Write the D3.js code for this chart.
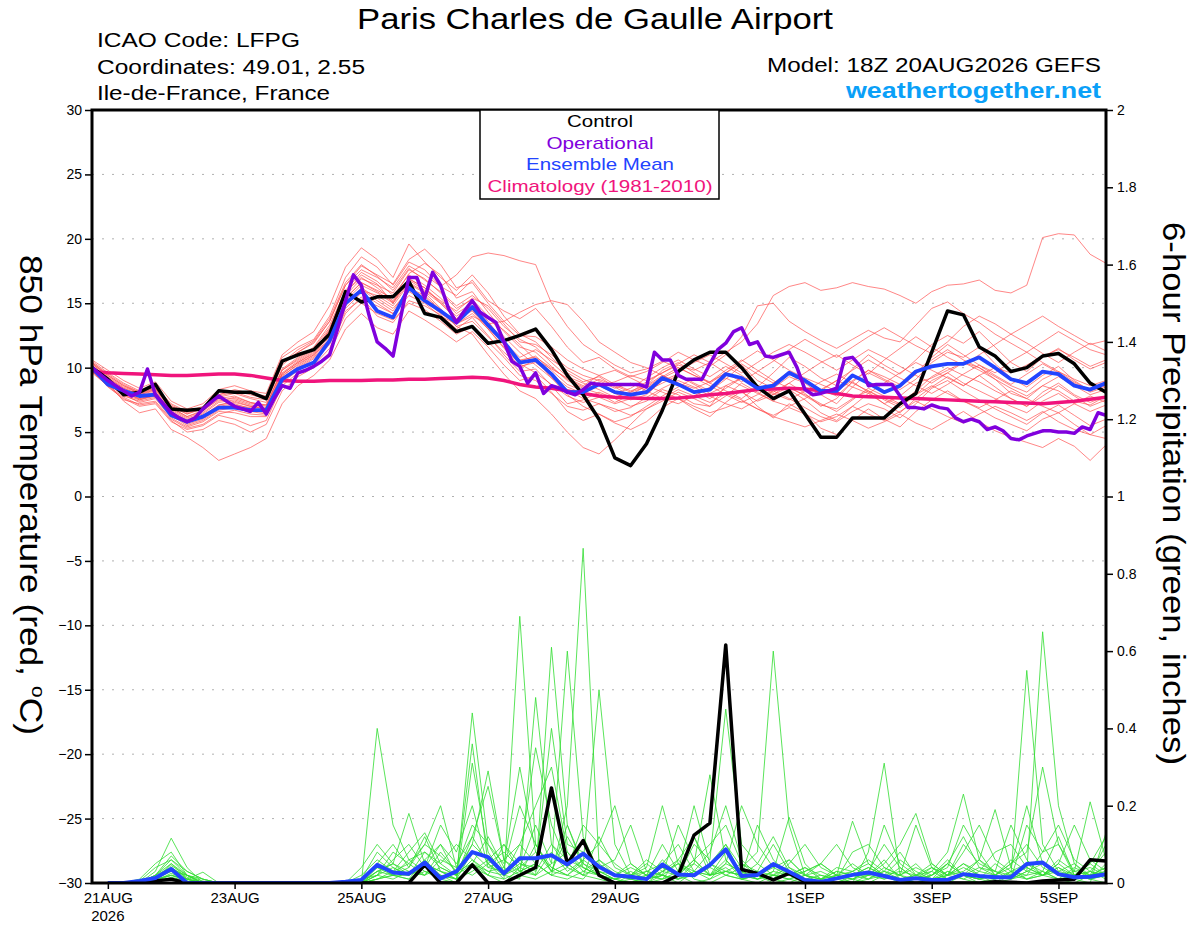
<!DOCTYPE html>
<html><head><meta charset="utf-8">
<script src="https://cdn.jsdelivr.net/npm/d3@7"></script>
<style>
body{margin:0;background:#fff;}
svg{display:block;font-family:"Liberation Sans",Arial,Helvetica,sans-serif;}
</style></head>
<body><svg id="c" width="1200" height="927"></svg>
<script>
// ---------------- DATA ----------------
const tickHours = [6,54,102,150,198,270,318,366];
const tickLabels = ["21AUG","23AUG","25AUG","27AUG","29AUG","1SEP","3SEP","5SEP"];
const tempTicks = [30,25,20,15,10,5,0,-5,-10,-15,-20,-25,-30];
const precipTicks = [0,0.2,0.4,0.6,0.8,1,1.2,1.4,1.6,1.8,2];

// 6-hourly temperature, hours 0..384
const controlTemp = [10.0,9.1,7.9,8.1,8.7,6.8,6.7,6.8,8.2,8.1,8.1,7.6,10.5,11.0,11.4,12.6,15.9,15.1,15.5,15.5,16.7,14.2,13.9,12.8,13.2,11.9,12.1,12.5,13.0,11.4,9.4,7.9,6.0,3.0,2.4,4.1,6.7,9.7,10.6,11.2,11.2,10.0,8.5,7.6,8.2,6.4,4.6,4.6,6.1,6.1,6.1,7.2,8.0,11.2,14.4,14.1,11.6,10.9,9.7,10.0,10.9,11.1,10.3,8.8,8.1];
const meanTemp = [10.0,8.7,8.2,7.8,7.9,6.3,5.8,6.2,6.9,6.9,6.7,6.7,9.1,9.9,10.4,12.1,15.0,16.0,14.4,13.9,16.2,15.2,14.4,13.5,14.7,13.3,12.0,10.4,10.6,9.5,8.1,8.1,8.7,8.1,7.9,8.1,9.2,8.7,8.1,8.3,9.5,9.2,8.4,8.6,9.6,9.0,8.2,8.2,9.4,8.8,8.1,8.6,9.7,10.1,10.3,10.3,10.8,10.0,9.1,8.8,9.7,9.5,8.6,8.3,8.8];
const climTemp = [9.7,9.6,9.55,9.5,9.45,9.4,9.4,9.45,9.5,9.5,9.4,9.2,9.0,8.95,8.95,9.0,9.0,9.0,9.05,9.05,9.1,9.1,9.15,9.2,9.25,9.2,9.0,8.7,8.5,8.4,8.2,8.0,7.8,7.7,7.65,7.6,7.6,7.65,7.75,7.9,8.0,8.15,8.3,8.35,8.4,8.35,8.2,8.0,7.8,7.75,7.7,7.65,7.6,7.55,7.5,7.45,7.4,7.35,7.3,7.25,7.2,7.3,7.4,7.55,7.7];
// 3-hourly operational run, hours 0..384
const operTemp = [10.0,9.5,9.0,8.6,8.2,7.8,8.1,9.9,7.9,7.2,6.5,6.1,5.8,6.1,6.8,7.3,7.8,7.4,7.0,6.8,6.6,7.3,6.4,7.6,8.6,8.4,9.6,9.8,10.1,10.5,11.0,13.0,15.2,17.2,16.4,14.0,12.0,11.5,10.9,14.0,17.0,17.0,15.4,17.4,16.4,14.6,13.5,14.4,15.2,14.3,13.9,13.5,12.0,10.5,10.1,8.8,9.6,8.0,8.6,8.4,8.1,7.9,8.3,8.8,8.7,8.7,8.7,8.7,8.7,8.7,8.5,11.2,10.6,10.6,9.4,9.1,9.1,9.1,10.3,11.4,11.9,12.8,13.1,11.8,12.0,10.9,10.8,11.0,11.2,10.0,8.3,7.9,8.0,8.2,8.4,10.7,10.8,10.1,8.6,8.7,8.7,8.7,7.8,6.9,6.9,6.8,7.1,6.9,6.8,6.1,5.8,6.0,5.8,5.2,5.4,5.1,4.5,4.4,4.7,4.9,5.1,5.1,5.0,5.0,4.9,5.4,5.2,6.5,6.3];
// ensemble members, 6-hourly temperature
const ensTemp = [
[10.2,9.0,8.2,7.5,7.9,6.5,5.9,6.3,7.1,7.4, 7.0,6.8,9.5,10.4,11.2,13.0,15.8,17.2,16.5,15.0, 16.9,16.2,15.0,13.8,14.5,13.1,11.8,10.5,10.9,9.8, 8.7,8.2,8.9,8.0,7.5,7.9,9.0,9.5,8.8,8.2, 9.1,10.2,9.0,8.4,9.3,8.8,7.9,7.2,8.5,9.6, 9.0,8.3,9.1,10.4,11.2,10.8,11.6,10.3,9.2,8.5, 9.4,10.1,9.0,8.2,8.9],
[9.8,8.5,7.6,7.0,7.2,5.8,5.2,5.5,6.3,6.0, 5.5,5.9,8.6,9.6,10.2,11.5,14.2,15.5,14.0,13.5, 15.2,14.8,14.1,13.0,13.9,12.5,11.0,9.7,9.9,8.6, 7.2,7.5,8.1,7.6,7.0,7.4,8.3,7.9,7.2,7.0, 8.6,8.1,7.4,7.9,8.8,8.0,7.0,7.6,8.9,8.1, 7.2,7.8,8.8,9.2,9.8,10.4,10.0,9.1,8.0,7.6, 8.6,8.2,7.4,7.1,7.8],
[10.5,9.6,8.8,8.2,8.5,7.2,6.6,7.0,7.9,8.3, 8.0,7.8,10.8,11.6,12.2,14.0,17.0,18.6,17.8,16.4, 18.2,17.6,16.3,15.6,16.8,15.2,14.4,13.8,14.6,13.2, 11.6,10.4,10.8,9.9,9.3,9.7,10.4,11.2,10.6,10.1, 11.0,12.4,14.8,15.0,13.6,12.8,12.1,11.5,12.2,12.9, 12.3,12.0,13.3,14.6,15.1,14.2,13.5,12.6,11.9,11.2, 12.0,12.8,12.1,11.4,11.0],
[10.0,8.8,7.4,6.5,6.8,5.2,4.6,3.8,2.8,3.3, 3.8,4.5,7.2,8.6,9.4,10.6,13.0,14.2,13.1,12.6, 14.4,13.7,12.9,12.0,12.8,11.6,10.2,9.0,9.4,8.1, 6.6,5.9,6.4,5.7,5.2,5.8,6.9,7.6,6.8,6.2, 7.3,8.2,7.0,6.1,7.2,6.5,5.3,4.8,5.9,6.8, 6.0,5.4,6.6,7.5,8.2,7.4,6.8,6.1,5.6,5.1, 6.0,6.5,5.6,4.8,5.5],
[10.3,9.3,8.5,8.0,8.3,6.9,6.2,6.6,7.6,7.8, 7.3,7.0,9.8,10.6,11.4,12.8,15.4,16.6,16.0,15.4, 17.3,18.1,17.2,15.4,15.9,14.3,12.8,11.6,11.2,10.1, 9.0,8.4,8.0,7.3,7.9,8.6,9.8,10.4,9.6,8.8, 8.2,7.6,8.5,9.6,10.8,10.1,9.2,8.6,9.9,11.0, 10.2,9.5,10.6,11.8,12.5,11.9,12.8,11.6,10.4,9.7, 10.8,11.5,10.6,9.9,10.4],
[10.6,9.8,9.0,8.4,8.9,7.4,6.8,7.2,8.3,8.6, 8.2,8.0,11.0,12.0,12.8,14.8,17.8,19.3,18.4,17.0, 19.6,18.2,17.0,16.0,17.2,15.8,14.0,12.6,12.0,10.8, 9.6,8.9,9.3,8.5,7.8,8.2,8.8,9.4,8.7,8.0, 8.6,9.2,8.4,7.9,8.5,7.8,7.1,6.8,7.6,8.2, 7.5,6.9,7.9,9.0,9.6,8.8,8.2,7.6,7.0,6.5, 7.4,8.0,7.2,6.6,7.1],
[9.9,8.9,8.0,7.6,7.8,6.4,5.6,6.0,6.8,7.0, 6.7,6.5,9.2,10.1,10.9,12.4,15.0,16.2,15.4,14.6, 16.0,15.5,14.4,13.2,13.6,12.4,11.2,10.1,10.4,9.5, 8.5,8.0,8.6,8.9,9.4,9.0,9.6,10.2,9.8,10.4, 11.2,12.0,13.4,15.6,16.3,16.6,16.0,16.2,16.6,16.3, 16.1,15.6,15.0,15.9,16.4,16.5,16.8,16.0,15.8,16.4, 20.1,20.4,20.3,18.8,18.1],
[10.1,9.1,8.3,7.7,8.0,6.6,5.9,6.1,6.9,7.1, 6.9,6.6,9.3,10.3,11.0,12.2,14.8,16.0,15.6,14.8, 16.5,15.8,14.6,13.2,12.6,11.0,9.5,8.2,7.6,6.4, 5.0,3.8,3.3,4.4,5.6,6.8,7.4,8.1,7.6,7.0, 7.8,8.8,8.1,7.4,8.3,7.5,6.5,5.9,7.0,8.0, 7.2,6.5,7.6,8.5,9.3,8.6,9.4,8.5,7.6,7.0, 8.1,8.8,7.9,7.3,7.8],
[10.4,9.5,8.7,8.1,8.4,7.0,6.4,6.8,7.7,8.0, 7.6,7.3,10.2,11.2,12.0,13.6,16.4,17.6,17.0,16.2, 17.9,17.2,16.3,17.2,18.6,18.9,18.7,18.3,18.0,15.0, 13.2,11.8,11.0,10.2,9.6,9.9,10.5,10.0,9.4,8.9, 9.6,10.3,9.5,8.8,9.7,9.1,8.3,7.8,8.9,9.8, 9.1,8.5,9.5,10.6,11.4,10.6,10.0,9.3,8.6,8.1, 9.1,9.7,8.9,8.2,8.6],
[9.7,8.7,7.9,7.3,7.6,6.1,5.4,5.8,6.6,6.5, 6.2,6.2,8.9,9.9,10.7,12.0,14.6,15.8,15.0,14.2, 15.6,15.0,14.0,13.4,14.0,13.4,13.6,14.3,14.9,15.2, 14.9,13.6,12.0,11.2,10.4,10.0,9.4,8.8,8.4,8.9, 9.8,10.6,9.8,9.0,8.4,7.9,7.2,6.6,7.5,8.4, 7.8,7.2,8.2,9.3,10.0,9.4,8.9,8.2,7.6,7.0, 7.8,8.6,7.8,7.0,7.5],
[10.0,9.0,8.1,7.8,8.1,6.7,6.0,6.4,7.3,7.5, 7.1,6.9,9.6,10.5,11.3,12.9,15.6,16.9,16.4,15.8, 17.6,16.9,15.8,14.6,15.3,14.0,12.4,11.2,10.2,9.2, 8.3,7.6,7.2,6.6,6.9,7.7,8.4,9.0,8.5,7.8, 7.2,6.8,7.5,8.2,7.6,6.9,6.2,5.8,6.6,7.2, 6.8,6.1,7.2,8.4,9.0,8.2,7.5,6.8,6.2,5.6, 6.5,7.1,6.3,5.5,6.0],
[9.6,8.6,7.5,7.2,7.4,6.0,5.3,5.6,6.4,6.7, 6.4,6.3,8.8,9.8,10.5,11.8,14.4,15.3,14.8,14.2, 15.9,15.2,14.2,13.4,14.2,13.0,11.6,10.0,10.6,9.9, 9.2,8.6,9.4,9.8,9.2,8.6,8.1,7.6,7.0,6.5, 6.9,7.4,6.8,6.2,5.8,5.4,5.9,6.4,5.9,5.3, 5.8,6.4,5.7,5.2,5.9,6.6,5.8,5.1,4.6,4.2, 3.8,4.5,3.9,2.8,4.0],
[10.2,9.2,8.4,7.9,8.2,6.8,6.1,6.5,7.4,7.7, 7.3,7.1,9.9,10.8,11.6,13.3,16.0,17.4,16.7,15.6, 17.2,16.4,15.4,14.2,15.0,13.6,12.0,10.8,11.4,10.6, 9.8,9.1,8.6,8.0,8.4,9.2,10.0,10.6,9.9,9.3, 10.1,9.4,8.6,8.1,8.8,9.6,10.4,11.0,10.2,9.5, 10.6,11.5,12.4,11.6,10.8,10.2,11.0,11.8,12.6,11.9, 11.1,10.4,11.2,11.9,11.3],
[9.9,8.8,7.8,7.4,7.7,6.3,5.5,5.9,6.7,6.9, 6.6,6.4,9.0,10.0,10.8,12.2,14.9,16.1,15.2,14.4, 16.2,15.6,14.5,13.6,14.6,13.8,12.9,11.8,10.6,9.2, 7.9,7.0,6.4,5.8,6.2,7.0,7.8,8.5,9.2,8.6, 7.9,7.3,7.9,8.8,9.5,8.9,8.2,9.0,9.8,10.6, 9.9,9.2,8.6,8.0,8.7,9.5,10.2,9.4,8.7,9.5, 10.3,9.6,8.8,8.1,8.5],
[10.4,9.4,8.6,8.1,8.6,7.1,6.5,6.9,7.8,8.1, 7.7,7.5,10.4,11.4,12.1,13.8,16.6,18.0,17.1,16.0, 17.7,16.8,15.9,14.8,15.6,14.6,13.2,12.2,11.6,10.4, 9.3,8.8,8.3,7.7,8.1,8.9,9.6,10.3,11.0,10.4, 9.6,8.9,9.7,10.5,11.4,12.2,11.5,10.8,11.6,12.4, 13.1,12.4,11.7,11.1,12.0,13.2,14.0,13.4,12.6,13.3, 14.0,13.2,12.5,11.8,12.1],
[9.7,8.6,7.7,7.1,7.3,5.9,5.0,5.2,5.9,5.6, 5.0,5.6,8.2,9.3,10.0,11.2,13.8,15.0,14.2,13.7, 15.0,14.5,13.6,12.6,13.2,12.0,10.8,9.4,9.0,8.0, 7.0,6.7,7.2,6.8,6.3,6.8,7.6,8.3,7.8,7.3, 8.0,7.5,6.8,6.3,6.9,6.4,5.8,6.2,7.0,6.4, 5.9,6.6,7.4,6.8,6.2,5.7,6.4,7.0,6.5,5.9, 6.6,5.8,5.2,4.8,4.5],
[10.1,9.2,8.4,7.9,8.3,6.9,6.2,6.7,7.5,7.6, 7.2,7.1,9.8,10.7,11.5,13.1,15.9,17.0,16.2,15.2, 16.8,16.0,15.2,14.4,15.4,14.8,13.4,12.0,11.8,11.0, 10.0,9.4,9.0,8.4,8.8,8.2,7.6,7.2,7.8,8.5, 9.2,8.6,8.0,7.4,7.0,7.6,8.3,9.0,8.5,8.0, 8.8,9.6,10.4,9.8,9.2,8.6,9.4,10.0,9.6,10.2, 10.9,11.4,10.8,10.1,10.6],
[9.8,8.7,7.9,7.5,7.8,6.2,5.7,6.1,7.0,7.2, 6.8,6.6,9.4,10.2,11.0,12.6,15.2,16.4,15.8,15.0, 16.6,15.9,15.0,13.8,14.4,13.0,11.5,10.3,9.6,8.7, 7.8,7.3,7.7,7.2,7.6,8.4,9.2,9.8,10.4,11.0, 10.3,9.6,10.4,11.2,11.8,11.2,10.5,9.8,10.6,11.4, 10.8,10.1,9.4,8.8,9.6,10.4,9.8,9.1,8.4,7.8, 8.6,9.3,8.6,7.9,8.3],
[10.3,9.4,8.6,8.0,8.4,7.0,6.4,6.9,7.9,8.2, 7.9,7.6,10.4,11.2,11.9,13.6,16.4,17.9,17.2,16.5, 18.4,19.2,18.0,16.2,16.6,15.0,13.6,12.5,12.4,11.6, 10.6,9.9,9.4,8.7,8.2,8.6,9.4,8.8,8.2,7.6, 8.4,9.2,8.6,8.0,7.5,8.2,8.9,9.5,8.8,8.2, 7.6,7.1,7.9,8.6,8.0,7.4,6.9,7.5,8.2,7.6, 7.0,6.5,7.2,7.8,7.3],
[9.9,9.0,8.1,7.6,7.9,6.5,5.8,6.2,7.1,7.3, 7.0,6.8,9.5,10.4,11.1,12.6,15.4,16.6,15.9,15.1, 16.9,16.2,15.1,14.0,14.8,13.4,11.9,10.6,10.8,10.0, 9.1,8.5,9.1,8.6,8.1,8.5,9.3,10.0,9.4,8.8, 9.6,10.5,11.3,10.6,9.8,9.2,8.7,8.2,9.0,9.8, 9.3,8.7,9.6,10.8,11.8,11.0,10.2,9.6,10.5,11.2, 10.4,9.7,9.1,8.6,9.0]
];

// 6-hour precipitation (inches), hours 6..384
const controlPrecip = [0,0,0,0.005,0.01,0,0,0, 0,0,0,0,0,0,0,0, 0,0,0,0,0.047,0,0,0.047, 0,0,0.02,0.04,0.246,0.05,0.11,0.02, 0,0,0,0,0.02,0.124,0.155,0.616, 0.035,0.025,0.008,0.025,0.003,0,0,0, 0,0,0,0,0,0,0,0, 0.003,0.002,0,0.005,0.008,0.01,0.06,0.057];
const meanPrecip = [0,0,0.005,0.013,0.036,0,0,0, 0,0,0,0,0,0,0,0.003, 0.008,0.047,0.027,0.024,0.053,0.012,0.03,0.08, 0.067,0.025,0.064,0.064,0.072,0.048,0.076,0.042, 0.02,0.016,0.01,0.048,0.022,0.02,0.047,0.087, 0.018,0.021,0.049,0.029,0.008,0.003,0.012,0.021, 0.027,0.018,0.008,0.012,0.008,0.008,0.023,0.018, 0.015,0.015,0.049,0.053,0.023,0.015,0.016,0.023];
const ensPrecip = [
[0,0,0,0.03,0.116,0.04,0,0, 0,0,0,0,0,0,0,0, 0,0.03,0.02,0.01,0.06,0.02,0,0.05, 0.02,0,0.04,0.08,0.03,0.12,0.05,0.02, 0.01,0,0,0.03,0.05,0.02,0.04,0.1, 0.04,0.08,0.6,0.15,0.02,0,0,0.01, 0,0.02,0.01,0,0,0.03,0.01,0, 0,0.02,0.05,0.03,0.01,0,0.02,0.04],
[0,0,0.01,0.05,0.08,0.02,0,0, 0,0,0,0,0,0,0,0, 0,0.05,0.1,0.04,0.12,0.03,0.01,0.44, 0.1,0.03,0.06,0.02,0.61,0.15,0.04,0.02, 0,0,0.01,0.06,0.02,0,0.01,0.03, 0.02,0.01,0.03,0.17,0.05,0.01,0,0, 0.02,0.06,0.01,0,0,0.02,0.05,0.02, 0,0.01,0.03,0.65,0.2,0.05,0.01,0],
[0,0,0.005,0.04,0.06,0.03,0.01,0, 0,0,0,0,0,0,0,0, 0.01,0.08,0.04,0.02,0.04,0.1,0.02,0.36, 0.05,0.01,0.69,0.1,0.03,0.02,0.01,0.06, 0.03,0.01,0,0.02,0.01,0.05,0.28,0.06, 0.01,0,0.02,0.04,0.01,0,0.02,0.16, 0.05,0.02,0,0.01,0.04,0.01,0.02,0, 0.01,0.02,0.55,0.1,0.03,0.02,0.05,0.02],
[0,0,0,0.02,0.05,0.01,0.028,0, 0,0,0,0,0,0,0,0, 0,0.4,0.15,0.06,0.03,0.01,0,0.31, 0.08,0.02,0.01,0.48,0.1,0.04,0.02,0.01, 0,0.02,0.04,0.2,0.05,0.01,0,0.02, 0.04,0.02,0.01,0,0.02,0.03,0.01,0, 0.08,0.31,0.02,0,0.01,0.05,0.02,0.01, 0,0.03,0.01,0.02,0.04,0.01,0,0.13],
[0,0,0,0.01,0.045,0.02,0,0, 0,0,0,0,0,0,0,0, 0.02,0.06,0.03,0.08,0.13,0.05,0.02,0.1, 0.29,0.06,0.03,0.02,0.05,0.6,0.12,0.03, 0.01,0,0.02,0.04,0.02,0.1,0.06,0.45, 0.1,0.05,0.02,0.01,0,0,0.01,0.03, 0.06,0.03,0.01,0.02,0.03,0.08,0.23,0.06, 0.19,0.04,0.01,0.02,0.06,0.03,0.21,0.06],
[0,0,0,0.015,0.03,0.01,0,0, 0,0,0,0,0,0,0,0, 0.04,0.1,0.05,0.18,0.05,0.02,0.01,0.03, 0.06,0.1,0.03,0.05,0.02,0.2,0.866,0.05, 0.02,0.01,0,0.01,0.03,0.2,0.05,0.02, 0.01,0.02,0.05,0.02,0.01,0,0,0.02, 0.04,0.02,0.01,0,0.02,0.05,0.12,0.04, 0.02,0.05,0.1,0.04,0.02,0.01,0.03,0.01],
[0,0,0,0.02,0.04,0.015,0,0, 0,0,0,0,0,0,0,0, 0,0.02,0.08,0.05,0.1,0.07,0.03,0.05, 0.12,0.04,0.2,0.1,0.03,0.15,0.05,0.5, 0.1,0.02,0.01,0.02,0,0.03,0.08,0.2, 0.06,0.02,0,0.01,0.03,0.05,0.02,0, 0.01,0.03,0.08,0.02,0.01,0,0.02,0.06, 0.03,0.01,0.15,0.08,0.1,0.03,0.02,0.04],
[0,0,0,0.01,0.03,0.02,0.01,0, 0,0,0,0,0,0,0,0, 0.01,0.04,0.02,0.06,0.08,0.04,0.02,0.12, 0.05,0.02,0.1,0.05,0.02,0.04,0.15,0.1, 0.2,0.05,0.02,0.01,0.02,0.06,0.02,0.08, 0.03,0.01,0.03,0.02,0.04,0.01,0.02,0.05, 0.02,0.01,0.04,0.01,0.02,0.06,0.02,0.01, 0.05,0.02,0.01,0.03,0.12,0.02,0.01,0.02],
[0,0,0,0.01,0.02,0.01,0,0, 0,0,0,0,0,0,0,0, 0,0.01,0.03,0.02,0.05,0.03,0.01,0.08, 0.04,0.06,0.02,0.01,0.03,0.05,0.02,0.04, 0.06,0.15,0.03,0.02,0.01,0.02,0.05,0.1, 0.02,0.05,0.12,0.04,0.02,0.01,0.03,0.02, 0.01,0.04,0.02,0.05,0.01,0.02,0.04,0.02, 0.01,0.03,0.05,0.02,0.01,0.04,0.02,0.1],
[0,0,0,0.005,0.025,0.01,0,0, 0,0,0,0,0,0,0,0, 0,0.03,0.05,0.03,0.02,0.06,0.04,0.02, 0.05,0.08,0.04,0.02,0.08,0.03,0.06,0.03, 0.02,0.04,0.02,0.1,0.03,0.05,0.02,0.06, 0.02,0.03,0.02,0.06,0.02,0.01,0.04,0.03, 0.05,0.02,0.03,0.02,0.04,0.02,0.05,0.03, 0.02,0.06,0.03,0.02,0.03,0.05,0.02,0.03],
[0,0,0,0,0.015,0.005,0,0, 0,0,0,0,0,0,0,0, 0,0.01,0.02,0.01,0.03,0.02,0.01,0.04, 0.02,0.01,0.03,0.05,0.02,0.01,0.03,0.02, 0.01,0.02,0.05,0.02,0.01,0.03,0.02,0.04, 0.01,0.02,0.01,0.03,0.01,0,0.02,0.01, 0.03,0.01,0.02,0.01,0.03,0.01,0.02,0.01, 0.02,0.01,0.02,0.03,0.01,0.02,0.01,0.02],
[0,0,0,0.01,0.035,0.02,0,0, 0,0,0,0,0,0,0,0, 0.01,0.05,0.02,0.04,0.1,0.2,0.04,0.15, 0.1,0.05,0.3,0.08,0.04,0.02,0.05,0.03, 0.01,0.03,0.01,0.02,0.05,0.03,0.01,0.05, 0.03,0.01,0.02,0.01,0.02,0.05,0.1,0.04, 0.02,0.15,0.05,0.02,0.01,0.03,0.02,0.01, 0.02,0.04,0.2,0.05,0.02,0.03,0.04,0.02],
[0,0,0,0.02,0.07,0.03,0.01,0, 0,0,0,0,0,0,0,0, 0,0.02,0.06,0.1,0.04,0.15,0.08,0.2, 0.04,0.03,0.06,0.35,0.15,0.05,0.02,0.12, 0.04,0.02,0.03,0.05,0.1,0.03,0.02,0.05, 0.2,0.1,0.04,0.02,0.01,0.01,0.03,0.02, 0.02,0.05,0.1,0.18,0.05,0.02,0.01,0.03, 0.08,0.1,0.04,0.02,0.05,0.15,0.06,0.03],
[0,0,0,0.01,0.02,0.01,0,0, 0,0,0,0,0,0,0,0, 0,0.01,0.02,0.02,0.06,0.1,0.05,0.12, 0.25,0.06,0.1,0.2,0.3,0.08,0.04,0.02, 0,0.01,0.03,0.02,0.15,0.06,0.02,0.03, 0.02,0.15,0.06,0.02,0.04,0.02,0.01,0.08, 0.1,0.04,0.02,0.15,0.04,0.02,0.08,0.15, 0.06,0.03,0.02,0.08,0.15,0.06,0.03,0.08],
[0,0,0,0.005,0.02,0.005,0,0, 0,0,0,0,0,0,0,0, 0,0.02,0.01,0.03,0.02,0.04,0.02,0.06, 0.03,0.02,0.05,0.03,0.1,0.06,0.04,0.02, 0.01,0.02,0.06,0.03,0.02,0.12,0.04,0.02, 0.01,0.02,0.04,0.06,0.02,0.01,0.02,0.03, 0.01,0.02,0.06,0.03,0.01,0.02,0.1,0.05, 0.03,0.15,0.06,0.02,0.04,0.02,0.01,0.05],
[0,0,0,0.01,0.05,0.02,0,0, 0,0,0,0,0,0,0,0, 0.005,0.03,0.05,0.02,0.08,0.05,0.1,0.06, 0.02,0.1,0.05,0.04,0.4,0.1,0.08,0.04, 0.02,0.05,0.02,0.01,0.06,0.12,0.02,0.03, 0.05,0.02,0.01,0.05,0.1,0.04,0.02,0.01, 0.03,0.1,0.04,0.01,0.02,0.04,0.15,0.08, 0.02,0.05,0.08,0.3,0.1,0.02,0.05,0.12],
[0,0,0,0.02,0.06,0.02,0.005,0, 0,0,0,0,0,0,0,0, 0,0.04,0.03,0.05,0.02,0.08,0.03,0.1, 0.06,0.02,0.04,0.15,0.05,0.08,0.03,0.06, 0.02,0.01,0.02,0.04,0.02,0.06,0.1,0.15, 0.05,0.03,0.1,0.03,0.01,0.02,0.01,0.02, 0.04,0.02,0.01,0.02,0.05,0.02,0.03,0.06, 0.02,0.01,0.03,0.05,0.02,0.01,0.02,0.03],
[0,0,0,0.01,0.04,0.01,0,0, 0,0,0,0,0,0,0,0, 0.01,0.02,0.04,0.02,0.05,0.03,0.02,0.05, 0.03,0.04,0.02,0.1,0.04,0.02,0.06,0.1, 0.05,0.02,0.01,0.03,0.06,0.02,0.05,0.03, 0.02,0.01,0.02,0.02,0.03,0.05,0.02,0.01, 0.02,0.03,0.02,0.04,0.02,0.05,0.02,0.04, 0.03,0.02,0.04,0.02,0.05,0.02,0.03,0.02]
];

// ---------------- DRAW ----------------
const svg = d3.select("#c");
const L = 92, R = 1106, T = 110, B = 883;
const x = d3.scaleLinear().domain([0,384]).range([L,R]);
const yT = d3.scaleLinear().domain([-30,30]).range([B,T]);
const yP = d3.scaleLinear().domain([0,2]).range([B,T]);
const fit = (sel,w) => sel.attr("textLength",w).attr("lengthAdjust","spacingAndGlyphs");

svg.append("rect").attr("width",1200).attr("height",927).attr("fill","#fff");
svg.append("defs").append("clipPath").attr("id","clip")
  .append("rect").attr("x",L).attr("y",T).attr("width",R-L).attr("height",B-T);

// grid
svg.append("g").selectAll("line").data(tempTicks.filter(d=>d>-30&&d<30)).join("line")
  .attr("x1",L).attr("x2",R).attr("y1",d=>yT(d)).attr("y2",d=>yT(d))
  .attr("stroke","#b0b0b0").attr("stroke-width",1).attr("stroke-dasharray","2,8");

const plot = svg.append("g").attr("clip-path","url(#clip)");
const lineT6 = d3.line().x((d,i)=>x(i*6)).y(d=>yT(d));
const lineT3 = d3.line().x((d,i)=>x(i*3)).y(d=>yT(d));
const lineP = d3.line().x((d,i)=>x((i+1)*6)).y(d=>yP(d));

// precip members
plot.append("g").selectAll("path").data(ensPrecip).join("path")
  .attr("d",lineP).attr("fill","none").attr("stroke","#33dd33").attr("stroke-width",0.9).attr("stroke-opacity",0.9);
// temp members
plot.append("g").selectAll("path").data(ensTemp).join("path")
  .attr("d",lineT6).attr("fill","none").attr("stroke","#ff4a4a").attr("stroke-width",0.9).attr("stroke-opacity",0.75);

// precip control & mean
plot.append("path").datum(controlPrecip).attr("d",lineP).attr("fill","none").attr("stroke","#000").attr("stroke-width",3.5).attr("stroke-linejoin","round");
plot.append("path").datum(meanPrecip).attr("d",lineP).attr("fill","none").attr("stroke","#2244ff").attr("stroke-width",4).attr("stroke-linejoin","round");

// temperature thick lines
plot.append("path").datum(climTemp).attr("d",lineT6).attr("fill","none").attr("stroke","#f0147c").attr("stroke-width",3.5);
plot.append("path").datum(controlTemp).attr("d",lineT6).attr("fill","none").attr("stroke","#000").attr("stroke-width",3.5).attr("stroke-linejoin","round");
plot.append("path").datum(meanTemp).attr("d",lineT6).attr("fill","none").attr("stroke","#2244ff").attr("stroke-width",3.8).attr("stroke-linejoin","round");
plot.append("path").datum(operTemp).attr("d",lineT3).attr("fill","none").attr("stroke","#8000dd").attr("stroke-width",3.5).attr("stroke-linejoin","round");

// frame
svg.append("rect").attr("x",L).attr("y",T).attr("width",R-L).attr("height",B-T)
  .attr("fill","none").attr("stroke","#000").attr("stroke-width",3);

// left axis
const la = svg.append("g").attr("transform",`translate(${L-1},0)`)
  .call(d3.axisLeft(yT).tickValues(tempTicks).tickSize(6).tickPadding(3).tickFormat(d3.format("d")));
la.select(".domain").remove();
la.selectAll("text").attr("font-size",14).attr("font-family","Liberation Sans, Arial, sans-serif").attr("fill","#000");
la.selectAll("line").attr("stroke","#000").attr("stroke-width",1.5);

// right axis
const ra = svg.append("g").attr("transform",`translate(${R+1},0)`)
  .call(d3.axisRight(yP).tickValues(precipTicks).tickSize(6).tickPadding(4).tickFormat(d=>String(+d.toFixed(1))));
ra.select(".domain").remove();
ra.selectAll("text").attr("font-size",14).attr("font-family","Liberation Sans, Arial, sans-serif").attr("fill","#000");
ra.selectAll("line").attr("stroke","#000").attr("stroke-width",1.5);

// bottom axis
const ba = svg.append("g").attr("transform",`translate(0,${B+1})`)
  .call(d3.axisBottom(x).tickValues(tickHours).tickSize(5).tickPadding(3).tickFormat((d,i)=>tickLabels[i]));
ba.select(".domain").remove();
ba.selectAll("text").attr("font-size",15).attr("font-family","Liberation Sans, Arial, sans-serif").attr("fill","#000");
ba.selectAll("line").attr("stroke","#000").attr("stroke-width",1.5);
svg.append("text").attr("x",x(tickHours[0])).attr("y",921).attr("text-anchor","middle")
  .attr("font-size",15).text("2026");

// titles
fit(svg.append("text").attr("x",357).attr("y",29).attr("font-size",29).text("Paris Charles de Gaulle Airport"),476);
const info = ["ICAO Code: LFPG","Coordinates: 49.01, 2.55","Ile-de-France, France"];
const infoW = [203,268,233];
svg.append("g").selectAll("text").data(info).join("text")
  .attr("x",97).attr("y",(d,i)=>47+i*26.5).attr("font-size",20).text(d=>d)
  .attr("textLength",(d,i)=>infoW[i]).attr("lengthAdjust","spacingAndGlyphs");
fit(svg.append("text").attr("x",767).attr("y",72).attr("font-size",20).text("Model: 18Z 20AUG2026 GEFS"),334);
fit(svg.append("text").attr("x",846).attr("y",98).attr("font-size",22).attr("font-weight","bold")
  .attr("fill","#0aa0f8").text("weathertogether.net"),255);

// axis titles
const lt = svg.append("text").attr("transform","translate(20,255) rotate(90)").attr("font-size",31)
  .attr("textLength",480).attr("lengthAdjust","spacingAndGlyphs");
lt.append("tspan").text("850 hPa Temperature (red, ");
lt.append("tspan").attr("font-size",19).attr("dy",-12).text("o");
lt.append("tspan").attr("dy",12).text("C)");
fit(svg.append("text").attr("transform","translate(1163,222) rotate(90)").attr("font-size",31)
  .text("6-hour Precipitation (green, inches)"),543);

// legend
const legendItems = ["Control","Operational","Ensemble Mean","Climatology (1981-2010)"];
const legendColors = ["#000","#8000dd","#2244ff","#f0147c"];
const legendW = [66,107,148,225];
svg.append("rect").attr("x",480).attr("y",110).attr("width",239).attr("height",89)
  .attr("fill","#fff").attr("stroke","#000").attr("stroke-width",1.5);
svg.append("g").selectAll("text").data(legendItems).join("text")
  .attr("x",(d,i)=>600-legendW[i]/2).attr("y",(d,i)=>127+i*21.7).attr("font-size",17)
  .attr("fill",(d,i)=>legendColors[i]).text(d=>d)
  .attr("textLength",(d,i)=>legendW[i]).attr("lengthAdjust","spacingAndGlyphs");
</script></body></html>
